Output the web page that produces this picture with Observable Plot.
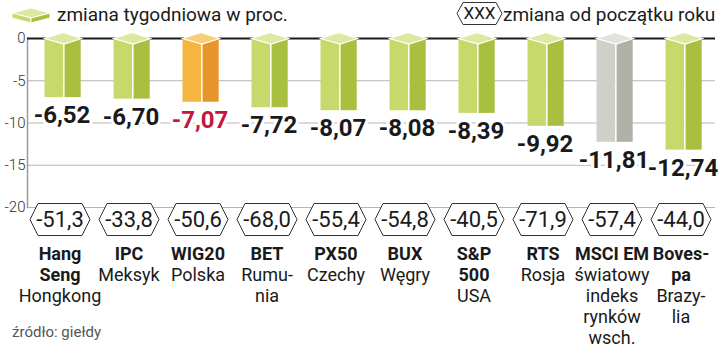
<!DOCTYPE html>
<html>
<head>
<meta charset="utf-8">
<script src="https://cdn.jsdelivr.net/npm/d3@7"></script>
<script src="https://cdn.jsdelivr.net/npm/@observablehq/plot@0.6"></script>
<style>
  body { margin: 0; background: #fff; font-family: Roboto, sans-serif; }
  #wrap { position: relative; width: 720px; height: 348px; overflow: hidden; }
  #chart, #overlay { position: absolute; left: 0; top: 0; }
  #overlay { pointer-events: none; }
</style>
</head>
<body>
<div id="wrap">
  <div id="chart"></div>
  <svg id="overlay" width="720" height="348" font-family="Roboto, sans-serif">
    <g stroke="#fff" stroke-width="1" stroke-linejoin="round">
      <polygon points="12,13 31,8 50,13 31,18" fill="#dde8a0"/>
      <polygon points="12,13 31,18 31,23 12,18" fill="#c8d96c"/>
      <polygon points="31,18 50,13 50,18 31,23" fill="#a9bf40"/>
    </g>
    <text x="57" y="20.5" font-size="19" fill="#1a1a1a">zmiana tygodniowa w proc.</text>
    <polygon points="457,13.5 463,2.5 496,2.5 502,13.5 496,24.5 463,24.5" fill="#fff" stroke="#333" stroke-width="1"/>
    <text x="479.5" y="19" font-size="17" text-anchor="middle" fill="#1a1a1a">XXX</text>
    <text x="503" y="20.5" font-size="19" fill="#1a1a1a">zmiana od początku roku</text>
    <text x="12" y="337" font-size="15" fill="#555">źródło: giełdy</text>
  </svg>
</div>
<script>
// ---- data ----
const names = ["Hang Seng", "IPC", "WIG20", "BET", "PX50", "BUX", "S&P 500", "RTS", "MSCI EM", "Bovespa"];
const boldLabels = ["Hang\nSeng", "IPC", "WIG20", "BET", "PX50", "BUX", "S&P\n500", "RTS", "MSCI EM", "Boves-\npa"];
const subLabels = ["Hongkong", "Meksyk", "Polska", "Rumu-\nnia", "Czechy", "Węgry", "USA", "Rosja", "światowy\nindeks\nrynków\nwsch.", "Brazy-\nlia"];
const weekly = [-6.52, -6.70, -7.07, -7.72, -8.07, -8.08, -8.39, -9.92, -11.81, -12.74];
const ytd = [-51.3, -33.8, -50.6, -68.0, -55.4, -54.8, -40.5, -71.9, -57.4, -44.0];
const kinds = ["index", "index", "home", "index", "index", "index", "index", "index", "world", "index"];
const yTicks = [0, -5, -10, -15, -20];

const palette = {
  index: {front: "#c8d96c", side: "#a9bf40", top: "#dde8a0", label: "#1a1a1a"},
  home:  {front: "#f4b541", side: "#e8962b", top: "#f7cd75", label: "#c4163f"},
  world: {front: "#cfd0c7", side: "#afb2a6", top: "#e2e3dc", label: "#1a1a1a"}
};

const fmt = (v, d) => v.toFixed(d).replace(".", ",");

const data = names.map((name, i) => ({
  name,
  bold: boldLabels[i],
  sub: subLabels[i],
  weekly: weekly[i],
  ytd: ytd[i],
  kind: kinds[i],
  nBold: boldLabels[i].split("\n").length
}));

const topFace = {
  draw(ctx) {
    ctx.moveTo(-18.5, 0); ctx.lineTo(0, -6); ctx.lineTo(18.5, 0); ctx.lineTo(1, 5.5); ctx.closePath();
  }
};
const hexagon = {
  draw(ctx) {
    ctx.moveTo(-30, 0); ctx.lineTo(-22, -16); ctx.lineTo(22, -16);
    ctx.lineTo(30, 0); ctx.lineTo(22, 16); ctx.lineTo(-22, 16); ctx.closePath();
  }
};

const chart = Plot.plot({
  width: 720,
  height: 348,
  marginTop: 38,
  marginBottom: 141,
  marginLeft: 27,
  marginRight: 5,
  style: {fontFamily: "Roboto, sans-serif", background: "transparent"},
  x: {domain: names, range: [22, 720], padding: 0, axis: null},
  y: {domain: [-20, 0], axis: null},
  marks: [
    Plot.ruleY(yTicks.filter(t => t !== 0), {stroke: "#b5b5b5", strokeWidth: 1}),
    Plot.frame({anchor: "left", stroke: "#9a9a9a", strokeWidth: 1.5}),
    Plot.ruleY([0], {stroke: "#1a1a1a", strokeWidth: 2}),
    Plot.axisY({ticks: yTicks, tickSize: 0, tickPadding: 2, tickFormat: d => String(d), label: null,
      fontSize: 15, fontWeight: 300, fill: "#333"}),
    Plot.barY(data, {x: "name", y1: 0, y2: "weekly", fill: d => palette[d.kind].front,
      insetLeft: 18.5, insetRight: 31.8, insetBottom: -4}),
    Plot.barY(data, {x: "name", y1: 0, y2: "weekly", fill: d => palette[d.kind].side,
      insetLeft: 38, insetRight: 14.3, insetBottom: -4}),
    Plot.ruleX(data, {x: "name", y1: 0, y2: "weekly", dx: 3, stroke: "#fff", strokeWidth: 1.2, insetBottom: -4}),
    Plot.dot(data, {x: "name", frameAnchor: "top", dx: 2, symbol: topFace,
      fill: d => palette[d.kind].top, stroke: "#fff", strokeWidth: 1.2}),
    Plot.text(data, {x: "name", y: "weekly", text: d => fmt(d.weekly, 2), dy: 22, dx: 1,
      lineAnchor: "middle", fontSize: 24, fontWeight: 700, fill: d => palette[d.kind].label,
      stroke: "#fff", strokeWidth: 6, paintOrder: "stroke", strokeLinejoin: "round"}),
    Plot.dot(data, {x: "name", frameAnchor: "bottom", dy: 12, dx: -1, symbol: hexagon,
      fill: "#fff", stroke: "#333", strokeWidth: 1}),
    Plot.text(data, {x: "name", frameAnchor: "bottom", dy: 12.5, dx: -1, lineAnchor: "middle",
      text: d => fmt(d.ytd, 1), fontSize: 22, fill: "#1a1a1a"}),
    Plot.text(data, {x: "name", frameAnchor: "bottom", dy: 38, dx: -1, lineAnchor: "top",
      text: "bold", fontSize: 18, fontWeight: 700, lineHeight: 1.167, fill: "#1a1a1a"}),
    Plot.text(data.filter(d => d.nBold === 1), {x: "name", frameAnchor: "bottom", dy: 59, dx: -1,
      lineAnchor: "top", text: "sub", fontSize: 18, lineHeight: 1.167, fill: "#1a1a1a"}),
    Plot.text(data.filter(d => d.nBold === 2), {x: "name", frameAnchor: "bottom", dy: 80, dx: -1,
      lineAnchor: "top", text: "sub", fontSize: 18, lineHeight: 1.167, fill: "#1a1a1a"})
  ]
});
document.getElementById("chart").appendChild(chart);
</script>
</body>
</html>
